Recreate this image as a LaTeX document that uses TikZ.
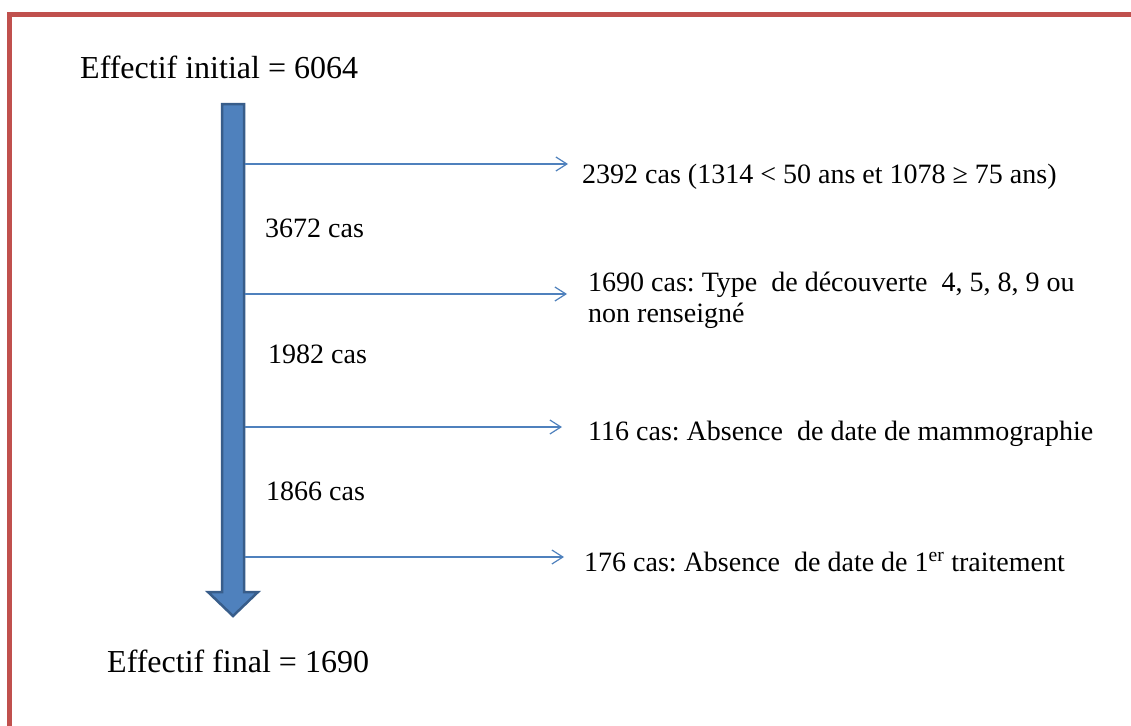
\documentclass[tikz,border=0pt]{standalone}
\usepackage{fontspec}
\setmainfont{Liberation Serif}
\newfontfamily\flowfont{Liberation Serif}
\usetikzlibrary{arrows.meta}
\definecolor{framered}{HTML}{C0504D}
\definecolor{flowblue}{HTML}{4F81BD}
\definecolor{flowedge}{HTML}{385D8A}
\frenchspacing

\begin{document}
\begin{tikzpicture}[x=1pt,y=-1pt,
  bigtext/.style={font=\flowfont\fontsize{32}{36}\selectfont, inner sep=0pt, anchor=base west},
  smalltext/.style={font=\flowfont\fontsize{28}{31}\selectfont, inner sep=0pt, anchor=base west, align=left},
  exclude/.style={draw=flowblue, line width=1.4pt, -{Straight Barb[length=11pt,width=14pt,line width=1.2pt]}},
  mainflow/.style={fill=flowblue, draw=flowedge, line width=2.5pt, line join=miter}]
\useasboundingbox (0,0) rectangle (1131,725);
\fill[white] (0,0) rectangle (1131,725);

% frame
\draw[framered, line width=5pt] (9.5,14.5) rectangle (1150,745);

% texts
\node[bigtext] (start) at (80,78) {Effectif initial = 6064};
\node[bigtext] (final) at (107,672) {Effectif final = 1690};

\node[smalltext] (n1) at (265,237) {3672 cas};
\node[smalltext] (n2) at (268,363) {1982 cas};
\node[smalltext] (n3) at (266,500) {1866 cas};

\node[smalltext] (out1) at (582,183) {2392 cas (1314 < 50 ans et 1078 ≥ 75 ans)};
\node[smalltext] (out2) at (588,322) {1690 cas: Type\ \ de découverte\ \ 4, 5, 8, 9 ou\\[-0.5pt]non renseigné};
\node[smalltext] (out3) at (588,440) {116 cas: Absence\ \ de date de mammographie};
\node[smalltext] (out4) at (584,571) {176 cas: Absence\ \ de date de 1\textsuperscript{er} traitement};

% main flow arrow
\draw[mainflow] (222,104) -- (244,104) -- (244,592) -- (258,592) -- (233,616)
  -- (208,592) -- (222,592) -- cycle;

% exclusions
\coordinate (s1) at (245,164);  \coordinate (e1) at (568,164);
\coordinate (s2) at (245,294);  \coordinate (e2) at (567,294);
\coordinate (s3) at (245,427);  \coordinate (e3) at (562,427);
\coordinate (s4) at (245,557);  \coordinate (e4) at (564,557);
\draw[exclude] (s1) -- (e1);
\draw[exclude] (s2) -- (e2);
\draw[exclude] (s3) -- (e3);
\draw[exclude] (s4) -- (e4);
\end{tikzpicture}
\end{document}
